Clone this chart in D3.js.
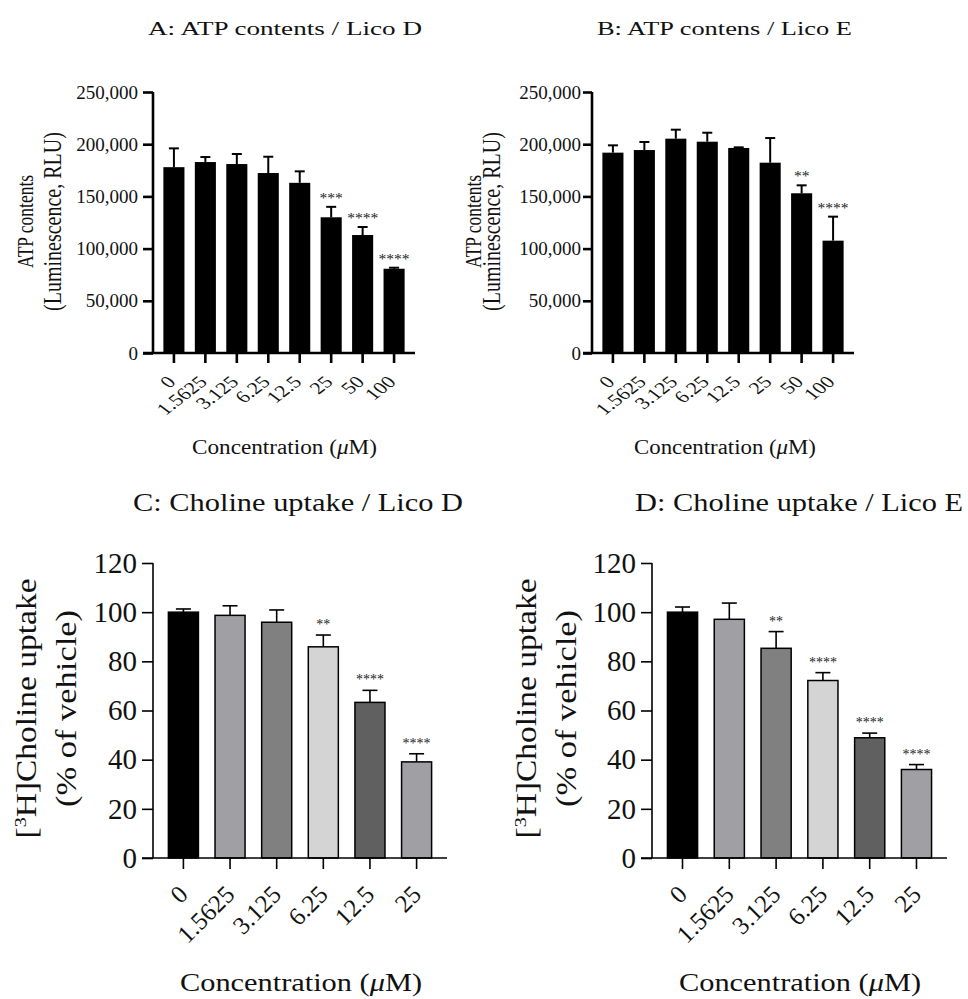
<!DOCTYPE html>
<html>
<head>
<meta charset="utf-8">
<script src="https://cdn.jsdelivr.net/npm/d3@7"></script>
<style>
  body { margin: 0; background: #fff; }
  svg { display: block; font-family: "Liberation Serif", "Times New Roman", serif; }
</style>
</head>
<body>
<div id="chart"></div>
<script>
const concATP = ['0', '1.5625', '3.125', '6.25', '12.5', '25', '50', '100'];
const atpLicoD = [178000, 182900, 181000, 172400, 163000, 130000, 113000, 80700];
const atpLicoDErr = [18000, 4800, 9600, 15600, 11000, 10000, 7700, 1000];
const atpLicoDStars = ['', '', '', '', '', '***', '****', '****'];
const atpLicoE = [191900, 194400, 205300, 202400, 196400, 182300, 153000, 107600];
const atpLicoEErr = [7000, 7700, 8600, 8600, 600, 23600, 7600, 23000];
const atpLicoEStars = ['', '', '', '', '', '', '**', '****'];
const atpTicks = [0, 50000, 100000, 150000, 200000, 250000];

const concChol = ['0', '1.5625', '3.125', '6.25', '12.5', '25'];
const cholLicoD = [100, 98.7, 95.9, 85.9, 63.3, 39.1];
const cholLicoDErr = [1.3, 3.9, 5.0, 4.8, 4.9, 3.3];
const cholLicoDStars = ['', '', '', '**', '****', '****'];
const cholLicoE = [100, 97.1, 85.3, 72.2, 48.9, 36.0];
const cholLicoEErr = [2.1, 6.6, 6.8, 3.2, 1.9, 2.0];
const cholLicoEStars = ['', '', '**', '****', '****', '****'];
const cholTicks = [0, 20, 40, 60, 80, 100, 120];
const cholFills = ['#000000', '#a0a0a4', '#808080', '#d4d4d4', '#606060', '#a0a0a4'];

const svg = d3.select('#chart').append('svg')
    .attr('width', 968)
    .attr('height', 999);

function drawPanel(p) {
    const g = svg.append('g');

    const x = d3.scaleBand()
        .domain(p.cats)
        .range([p.axisX, p.axisEnd])
        .paddingInner(p.padInner)
        .paddingOuter(p.padOuter);

    const y = d3.scaleLinear()
        .domain([0, p.yMax])
        .range([p.yBottom, p.yTop]);

    const rows = p.cats.map((c, i) => ({
        cat: c, value: p.values[i], err: p.errs[i], star: p.stars[i], fill: p.fills[i]
    }));

    // bars
    g.selectAll('rect.bar')
        .data(rows)
        .join('rect')
        .attr('class', 'bar')
        .attr('x', d => x(d.cat))
        .attr('y', d => y(d.value))
        .attr('width', x.bandwidth())
        .attr('height', d => y(0) - y(d.value))
        .attr('fill', d => d.fill)
        .attr('stroke', p.barStroke ? '#000' : 'none')
        .attr('stroke-width', p.barStroke || 0);

    // upper error bars
    const cx = d => x(d.cat) + x.bandwidth() / 2;
    g.selectAll('line.err')
        .data(rows)
        .join('line')
        .attr('x1', cx).attr('x2', cx)
        .attr('y1', d => y(d.value)).attr('y2', d => y(d.value + d.err))
        .attr('stroke', '#000').attr('stroke-width', p.errWidth);
    g.selectAll('line.cap')
        .data(rows)
        .join('line')
        .attr('x1', d => cx(d) - p.capHalf).attr('x2', d => cx(d) + p.capHalf)
        .attr('y1', d => y(d.value + d.err)).attr('y2', d => y(d.value + d.err))
        .attr('stroke', '#000').attr('stroke-width', p.errWidth);

    // significance stars
    g.selectAll('text.star')
        .data(rows.filter(d => d.star))
        .join('text')
        .attr('x', cx)
        .attr('y', d => y(d.value + d.err) - p.starGap)
        .attr('text-anchor', 'middle')
        .style('font-size', p.starSize + 'px')
        .style('fill', '#222')
        .text(d => d.star);

    // y axis
    const yAxis = d3.axisLeft(y)
        .tickValues(p.yTicks)
        .tickSize(p.axisX - p.tickStart)
        .tickPadding(p.yPad)
        .tickFormat(p.yFormat);
    const ya = g.append('g')
        .attr('transform', `translate(${p.axisX},0)`)
        .call(yAxis);
    ya.select('.domain').attr('d', `M0,${p.yTop}V${p.yBottom}`);
    ya.selectAll('path,line').attr('stroke', '#000').attr('stroke-width', p.axisWidth);
    ya.selectAll('text')
        .attr('fill', '#111')
        .style('font-family', '"Liberation Serif", serif')
        .style('font-size', p.yTickSize + 'px');

    // x axis
    const xAxis = d3.axisBottom(x).tickSize(p.xTickLen).tickFormat('');
    const xa = g.append('g')
        .attr('transform', `translate(0,${p.yBottom})`)
        .call(xAxis);
    xa.select('.domain').attr('d', `M${p.tickStart},0H${p.axisEnd}`);
    xa.selectAll('path,line').attr('stroke', '#000').attr('stroke-width', p.axisWidth);

    // rotated category labels
    g.selectAll('text.xl')
        .data(p.cats)
        .join('text')
        .attr('class', 'xl')
        .attr('transform', d => `translate(${x(d) + x.bandwidth() / 2 + p.xLabDx},${p.yBottom + p.xLabDy}) scale(${p.stretch},1) rotate(-45)`)
        .attr('text-anchor', 'end')
        .style('font-size', p.xTickSize + 'px')
        .style('fill', '#111')
        .text(d => d);

    // title
    g.append('text')
        .attr('x', p.titleX).attr('y', p.titleY)
        .attr('text-anchor', 'middle')
        .attr('textLength', p.titleLen)
        .attr('lengthAdjust', 'spacingAndGlyphs')
        .style('font-size', p.titleSize + 'px')
        .style('fill', '#111')
        .text(p.title);

    // x axis title
    const xt = g.append('text')
        .attr('x', p.xTitleX).attr('y', p.xTitleY)
        .attr('text-anchor', 'middle')
        .attr('textLength', p.xTitleLen)
        .attr('lengthAdjust', 'spacingAndGlyphs')
        .style('font-size', p.xTitleSize + 'px')
        .style('fill', '#111');
    xt.append('tspan').text('Concentration (');
    xt.append('tspan').style('font-style', 'italic').text('\u03bc');
    xt.append('tspan').text('M)');

    // y axis title, two lines (top panels are drawn a little wider than tall)
    const yc = (p.yTop + p.yBottom) / 2 + p.yTitleShift;
    p.yLines.forEach((line, i) => {
        const t = g.append('text')
            .attr('transform', `translate(${p.yTitleX[i]},${yc}) scale(${p.stretch},1) rotate(-90)`)
            .attr('text-anchor', 'middle')
            .style('font-size', p.yTitleSize[i] + 'px')
            .style('fill', '#111');
        if (p.yTitleLen) {
            t.attr('textLength', p.yTitleLen[i]).attr('lengthAdjust', 'spacingAndGlyphs');
        }
        line.forEach(part => {
            const s = t.append('tspan').text(part.t);
            if (part.sup) s.attr('baseline-shift', 'super').style('font-size', (p.yTitleSize[i] * 0.6) + 'px');
        });
    });
}

const fmtComma = d3.format(',');

const topBase = {
    cats: concATP, yMax: 250000, yTicks: atpTicks, yFormat: fmtComma,
    yTop: 92, yBottom: 353, padInner: 0.33, padOuter: 0.33,
    fills: concATP.map(() => '#000'), barStroke: 0,
    errWidth: 2, capHalf: 5, starGap: 4, starSize: 15.5,
    axisWidth: 2.6, xTickLen: 10, yPad: 5, yTickSize: 19,
    xLabDx: 3, xLabDy: 30, xTickSize: 17, stretch: 1.3,
    titleY: 35, titleSize: 19, xTitleY: 454, xTitleSize: 20,
    yTitleSize: [17.5, 20], yTitleShift: -1,
    yLines: [[{t: 'ATP contents'}], [{t: '(Luminescence, RLU)'}]]
};

drawPanel(Object.assign({}, topBase, {
    axisX: 153, axisEnd: 415, tickStart: 143,
    values: atpLicoD, errs: atpLicoDErr, stars: atpLicoDStars,
    title: 'A: ATP contents  /  Lico D', titleX: 285, titleLen: 274,
    xTitleX: 284.5, xTitleLen: 185, yTitleX: [33, 61]
}));

drawPanel(Object.assign({}, topBase, {
    axisX: 592, axisEnd: 854, tickStart: 583, yPad: 2,
    values: atpLicoE, errs: atpLicoEErr, stars: atpLicoEStars,
    title: 'B: ATP contens  /  Lico E', titleX: 724.5, titleLen: 255,
    xTitleX: 725, xTitleLen: 182, yTitleX: [481, 500]
}));

const bottomBase = {
    cats: concChol, yMax: 120, yTicks: cholTicks, yFormat: d3.format('d'),
    yTop: 563, yBottom: 858, padInner: 0.356, padOuter: 0.33,
    fills: cholFills, barStroke: 1.5,
    errWidth: 1.6, capHalf: 7.5, starGap: 6, starSize: 14,
    axisWidth: 1.6, xTickLen: 11, yPad: 5, yTickSize: 29,
    xLabDx: 6, xLabDy: 38, xTickSize: 25, stretch: 1,
    titleY: 511, titleSize: 26, xTitleY: 991, xTitleSize: 26,
    yTitleSize: [29, 29], yTitleShift: -2,
    yTitleLen: [260, 197],
    yLines: [[{t: '['}, {t: '3', sup: true}, {t: 'H]Choline uptake'}], [{t: '(% of vehicle)'}]]
};

drawPanel(Object.assign({}, bottomBase, {
    axisX: 153, axisEnd: 447, tickStart: 142,
    values: cholLicoD, errs: cholLicoDErr, stars: cholLicoDStars,
    title: 'C: Choline uptake  /  Lico D', titleX: 298, titleLen: 330,
    xTitleX: 301, xTitleLen: 242, yTitleX: [36, 76]
}));

drawPanel(Object.assign({}, bottomBase, {
    axisX: 652, axisEnd: 947, tickStart: 641,
    values: cholLicoE, errs: cholLicoEErr, stars: cholLicoEStars,
    title: 'D: Choline uptake  /  Lico E', titleX: 799, titleLen: 328,
    xTitleX: 800, xTitleLen: 242, yTitleX: [536, 576]
}));
</script>
</body>
</html>
